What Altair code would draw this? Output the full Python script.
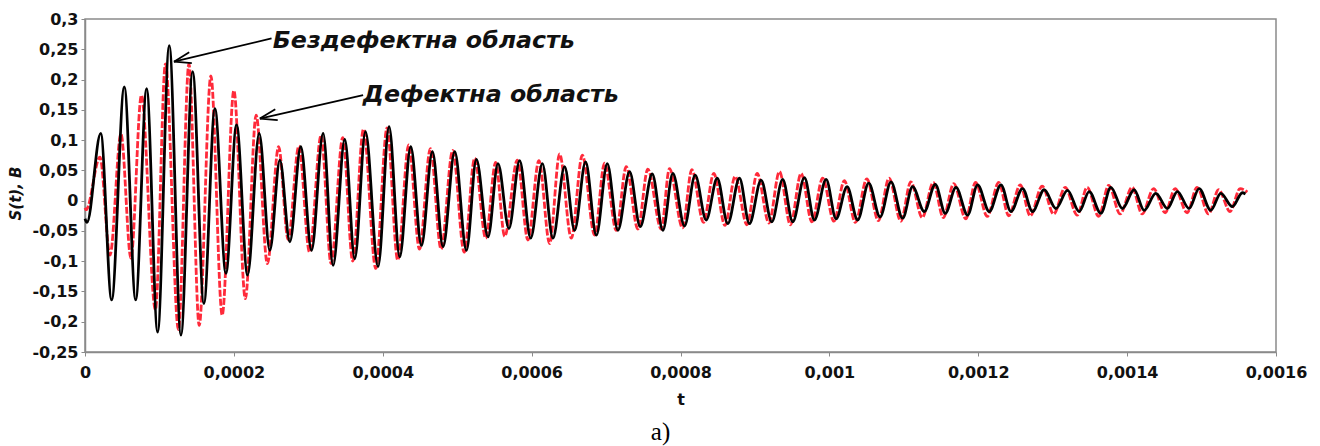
import altair as alt
import pandas as pd

# ---- data (time in microseconds, signal in volts) ----
black_t_us = [0, 2.7, 21.1, 35.8, 52.8, 68.1, 82.8, 97.6, 113.2, 128.9, 144.6, 159.7,
              174.5, 189.3, 203.6, 218.4, 234.0, 248.3, 261.8, 275.2, 289.9, 304.3,
              319.9, 333.3, 349.0, 362.4, 376.8, 393.7, 408.5, 422.8, 437.6, 452.0,
              466.7, 481.0, 496.7, 512.4, 525.8, 541.4, 554.8, 569.5, 583.9, 598.7,
              614.4, 628.6, 644.3, 657.7, 672.5, 686.9, 701.6, 715.9, 731.6, 745.9,
              762.0, 776.3, 789.7, 805.4, 819.7, 834.5, 849.3, 863.5, 879.2, 892.6,
              908.3, 922.6, 937.3, 950.8, 966.5, 979.9, 995.6, 1009.0, 1023.8, 1038.0,
              1052.8, 1068.1, 1082.8, 1098.4, 1111.8, 1127.5, 1142.3, 1155.7, 1170.1,
              1185.7, 1199.1, 1214.8, 1230.5, 1243.9, 1259.5, 1272.9, 1288.6, 1304.3,
              1319.9, 1335.6, 1349.0, 1364.7, 1378.1, 1393.7, 1409.4, 1422.8, 1438.5,
              1454.1, 1467.5, 1483.2, 1496.7, 1512.4, 1525.8, 1541.4, 1554.8, 1559.0]
black_v = [-0.030, -0.036, 0.111, -0.164, 0.188, -0.164, 0.185, -0.217, 0.256, -0.222,
           0.213, -0.170, 0.152, -0.120, 0.125, -0.123, 0.111, -0.082, 0.067, -0.068,
           0.089, -0.082, 0.111, -0.107, 0.101, -0.096, 0.114, -0.109, 0.122, -0.093,
           0.089, -0.074, 0.081, -0.076, 0.081, -0.082, 0.068, -0.060, 0.061, -0.046,
           0.066, -0.062, 0.061, -0.062, 0.056, -0.049, 0.064, -0.057, 0.061, -0.049,
           0.048, -0.043, 0.044, -0.049, 0.045, -0.042, 0.042, -0.032, 0.037, -0.038,
           0.037, -0.038, 0.034, -0.035, 0.035, -0.035, 0.038, -0.032, 0.035, -0.030,
           0.023, -0.032, 0.029, -0.027, 0.031, -0.029, 0.023, -0.018, 0.027, -0.021,
           0.022, -0.024, 0.026, -0.018, 0.026, -0.018, 0.020, -0.018, 0.018, -0.013,
           0.017, -0.018, 0.015, -0.021, 0.022, -0.013, 0.018, -0.016, 0.012, -0.013,
           0.015, -0.013, 0.020, -0.016, 0.012, -0.010, 0.013, 0.011]

red_t_us = [0, 1.5, 20.1, 33.6, 48.3, 61.7, 75.8, 94.6, 108.1, 125.5, 139.6, 153.4,
            169.1, 184.3, 200.0, 215.4, 229.9, 245.0, 260.1, 272.9, 287.3, 301.6,
            317.2, 330.6, 346.3, 359.7, 374.1, 390.6, 405.8, 420.1, 434.9, 449.3,
            464.0, 478.3, 494.0, 509.4, 523.5, 538.3, 551.7, 563.8, 580.8, 595.0,
            609.8, 624.2, 637.6, 653.3, 668.1, 684.6, 698.0, 713.7, 727.1, 742.7,
            756.1, 774.1, 785.2, 802.7, 815.2, 830.9, 844.7, 859.7, 873.4, 889.3,
            903.0, 918.8, 932.9, 947.7, 962.0, 976.5, 991.0, 1006.1, 1020.1, 1034.9,
            1050.3, 1065.8, 1080.2, 1096.0, 1109.4, 1124.8, 1139.6, 1153.0, 1167.1,
            1183.2, 1196.4, 1212.1, 1227.5, 1241.0, 1256.4, 1269.8, 1285.9, 1301.3,
            1316.8, 1332.9, 1346.3, 1361.8, 1375.2, 1390.6, 1406.7, 1420.1, 1435.6,
            1451.0, 1464.5, 1480.6, 1494.0, 1509.4, 1522.9, 1538.3, 1551.7, 1561.5]
red_v = [-0.012, -0.015, 0.072, -0.090, 0.110, -0.095, 0.174, -0.180, 0.226, -0.213,
         0.226, -0.206, 0.206, -0.189, 0.182, -0.162, 0.141, -0.104, 0.089, -0.064,
         0.090, -0.085, 0.108, -0.104, 0.104, -0.100, 0.118, -0.112, 0.120, -0.098,
         0.092, -0.080, 0.086, -0.080, 0.083, -0.085, 0.070, -0.062, 0.063, -0.059,
         0.067, -0.065, 0.066, -0.071, 0.077, -0.062, 0.075, -0.057, 0.062, -0.049,
         0.056, -0.047, 0.052, -0.047, 0.053, -0.045, 0.051, -0.036, 0.045, -0.041,
         0.040, -0.040, 0.045, -0.037, 0.048, -0.040, 0.045, -0.035, 0.037, -0.034,
         0.033, -0.036, 0.036, -0.033, 0.037, -0.034, 0.031, -0.028, 0.030, -0.028,
         0.028, -0.030, 0.030, -0.026, 0.030, -0.025, 0.026, -0.025, 0.024, -0.022,
         0.022, -0.024, 0.022, -0.026, 0.025, -0.022, 0.022, -0.022, 0.020, -0.020,
         0.020, -0.020, 0.022, -0.022, 0.018, -0.018, 0.020, 0.014]

x_ticks = [0, 0.0002, 0.0004, 0.0006, 0.0008, 0.001, 0.0012, 0.0014, 0.0016]
y_ticks = [0.3, 0.25, 0.2, 0.15, 0.1, 0.05, 0, -0.05, -0.1, -0.15, -0.2, -0.25]

labels_text = ["Бездефектна область", "Дефектна область"]
labels_t_us = [252.3, 373.2]
labels_v = [0.2518, 0.1634]

# arrow segments: shaft + two barbs for each arrow (data units)
arrow_t1_us = [250.6, 119.5, 119.5, 373.6, 234.9, 234.9]
arrow_v1 = [0.268, 0.2295, 0.2295, 0.1744, 0.1356, 0.1356]
arrow_t2_us = [119.5, 143.5, 140.0, 234.9, 258.9, 255.6]
arrow_v2 = [0.2295, 0.2272, 0.2450, 0.1356, 0.1329, 0.1508]

# ---- tables ----
df_black = pd.DataFrame({"t": [x * 1e-6 for x in black_t_us], "v": black_v})
df_red = pd.DataFrame({"t": [x * 1e-6 for x in red_t_us], "v": red_v})
df_lab = pd.DataFrame({"label": labels_text, "t": [x * 1e-6 for x in labels_t_us], "v": labels_v})
df_arr = pd.DataFrame({
    "t": [x * 1e-6 for x in arrow_t1_us], "v": arrow_v1,
    "t2": [x * 1e-6 for x in arrow_t2_us], "v2": arrow_v2,
})

FONT = "DejaVu Sans"
GRAY = "#8a8a8a"

xscale = alt.Scale(domain=[0, 0.0016], nice=False, zero=False)
yscale = alt.Scale(domain=[-0.25, 0.3], nice=False, zero=False)

label_expr = "replace('' + datum.value, '.', ',')"

x_enc = alt.X("t:Q", scale=xscale, axis=alt.Axis(
    values=x_ticks, labelExpr=label_expr, title="t", grid=False,
    labelFlush=False, labelOverlap=False, labelFont=FONT, labelFontSize=16,
    labelFontWeight="bold", labelColor="#111", labelPadding=8,
    titleFont=FONT, titleFontSize=16, titleFontWeight="bold", titleColor="#111",
    titlePadding=11, tickSize=4, tickColor=GRAY, domainColor=GRAY, domainWidth=1.5))
y_enc = alt.Y("v:Q", scale=yscale, axis=alt.Axis(
    values=y_ticks, labelExpr=label_expr, title="S(t), B", grid=False,
    labelFlush=False, labelOverlap=False, labelFont=FONT, labelFontSize=16,
    labelFontWeight="bold", labelColor="#111", labelPadding=3,
    titleFont=FONT, titleFontSize=15, titleFontWeight="bold", titleFontStyle="italic",
    titleColor="#111", titleAngle=-90, titleX=-70, titleY=174,
    titleAlign="center", titleBaseline="middle",
    tickSize=4, tickColor=GRAY, domainColor=GRAY, domainWidth=1.5))

red_line = alt.Chart(df_red).mark_line(
    color="#ff2a3a", strokeWidth=2.8, strokeDash=[7, 2], interpolate="monotone"
).encode(x=x_enc, y=y_enc)

black_line = alt.Chart(df_black).mark_line(
    color="#000000", strokeWidth=2.8, interpolate="monotone"
).encode(x=x_enc, y=y_enc)

arrows = alt.Chart(df_arr).mark_rule(color="#000000", strokeWidth=1.8).encode(
    x=x_enc, y=y_enc, x2="t2:Q", y2="v2:Q")

texts = alt.Chart(df_lab).mark_text(
    align="left", baseline="alphabetic", font=FONT, fontSize=23.7,
    fontWeight="bold", fontStyle="italic", color="#111"
).encode(x=x_enc, y=y_enc, text="label:N")

chart = alt.layer(red_line, black_line, arrows, texts).properties(
    width=1191, height=333,
    autosize=alt.AutoSizeParams(type="none"),
    padding={"left": 85, "top": 19, "right": 44, "bottom": 94},
    title=alt.TitleParams("a)", orient="bottom", anchor="middle", font="Liberation Serif",
                          fontSize=25, fontWeight="normal", color="#000", offset=13, dx=-20),
    background="white",
).configure_view(
    stroke=GRAY, strokeWidth=1.5
).configure_axis(labelOverlap=False)

chart.save("out.html", embed_options={"renderer": "svg", "actions": False})
